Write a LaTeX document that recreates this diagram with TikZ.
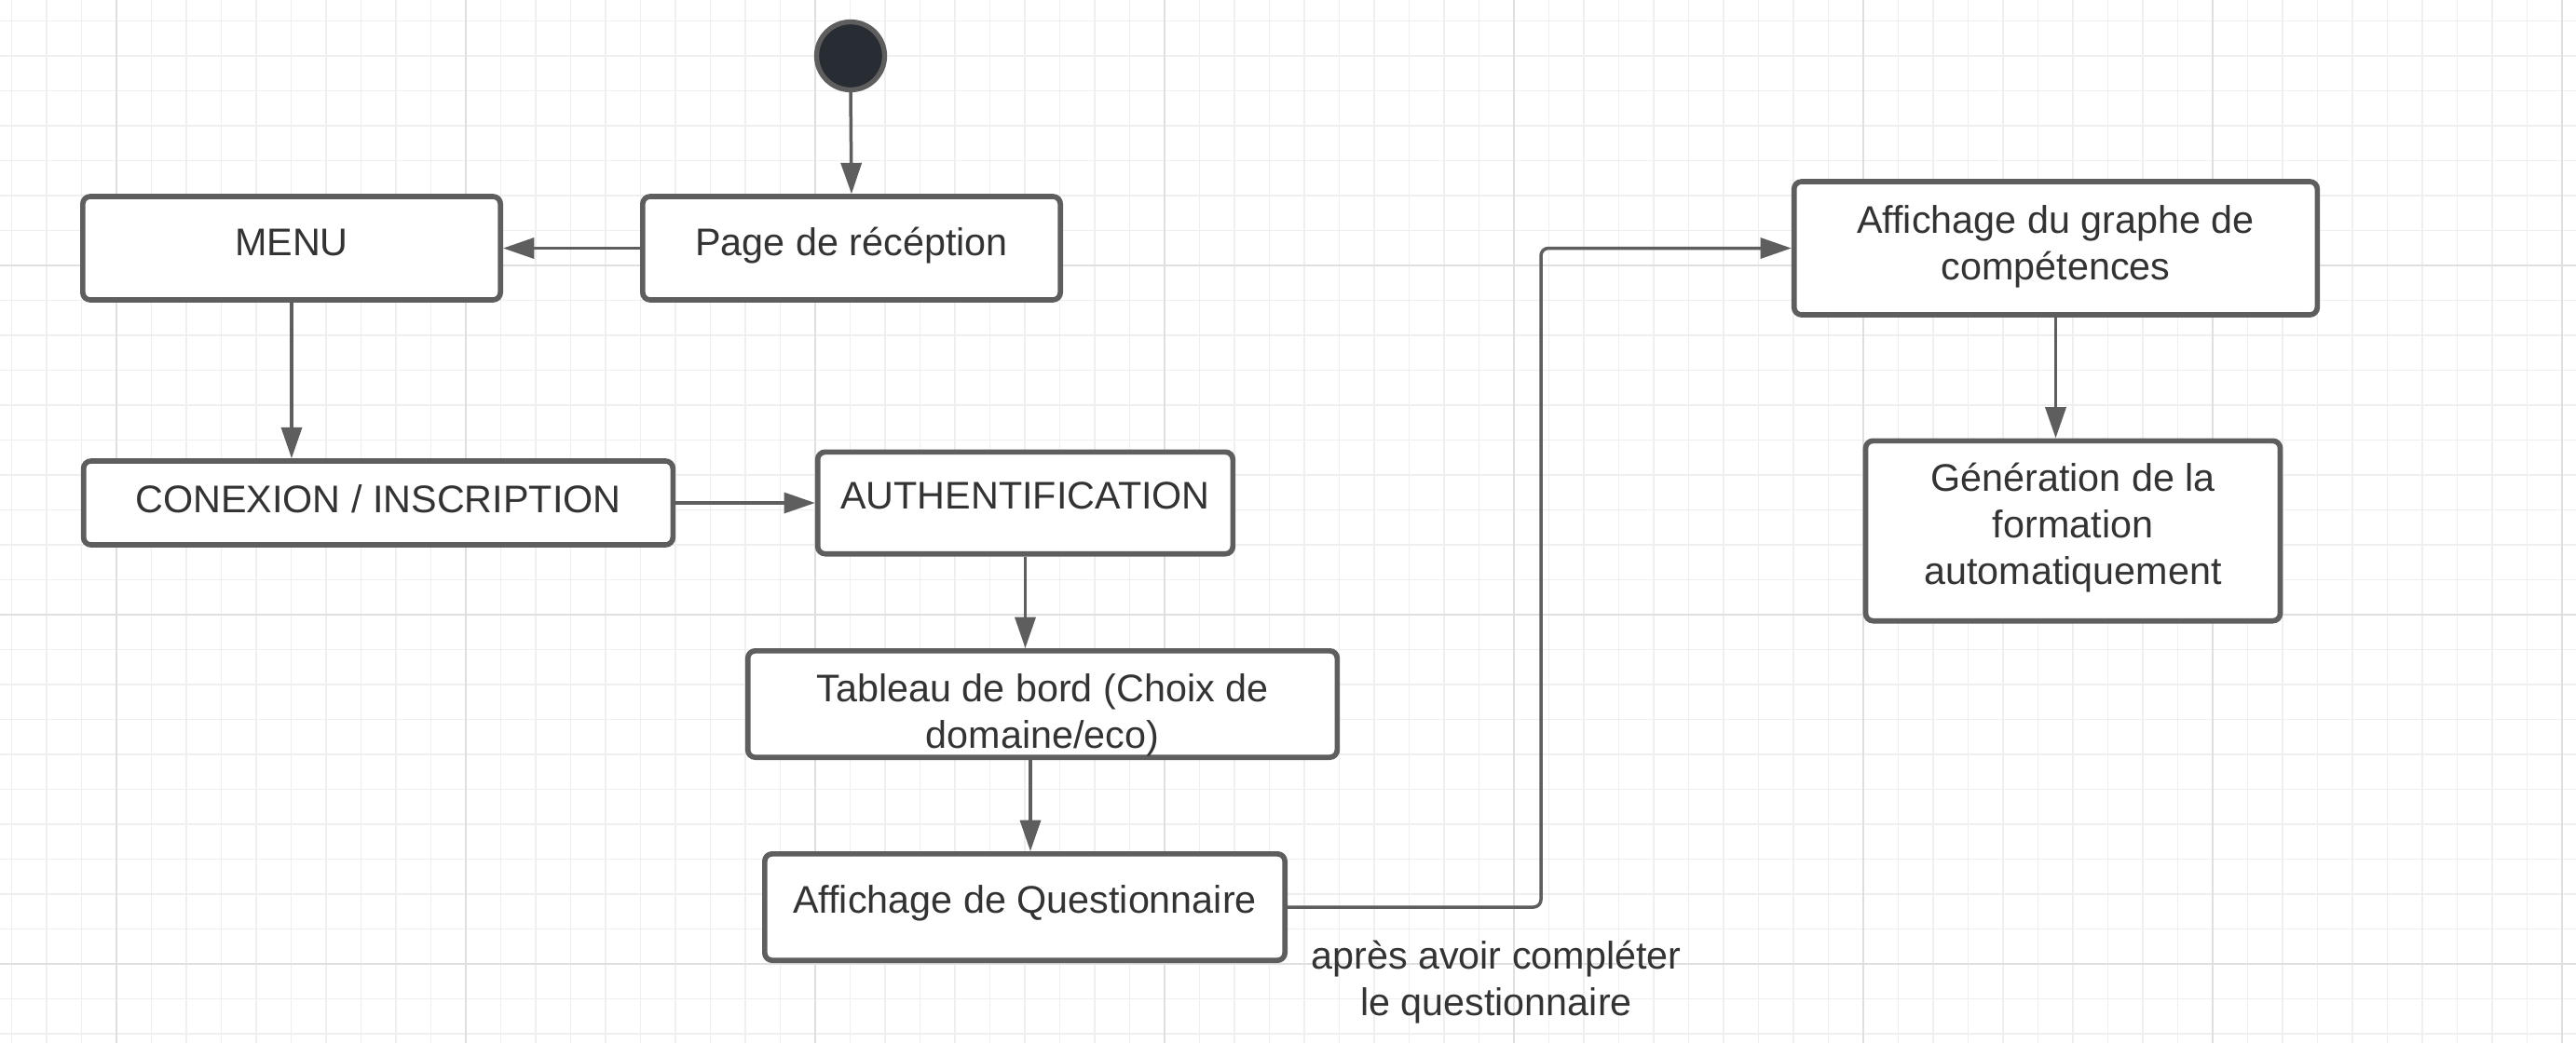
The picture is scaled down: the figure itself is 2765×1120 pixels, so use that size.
\documentclass[tikz,border=0pt]{standalone}
\usepackage{fontspec}
\setmainfont{Liberation Sans}
\usetikzlibrary{arrows.meta,calc}
\definecolor{gridminor}{HTML}{EFEFEF}
\definecolor{gridmajor}{HTML}{DFDFDF}
\definecolor{edgegray}{HTML}{5E5E5E}
\definecolor{txtgray}{HTML}{333333}
\definecolor{startfill}{HTML}{282C33}
\newcommand\bxt[2]{\raisebox{#1}[\height][\depth]{\begin{tabular}{@{}c@{}}#2\end{tabular}}}
\begin{document}
\begin{tikzpicture}[x=0.3pt,y=-0.3pt,
  statebox/.style={draw=edgegray,line width=1.7pt,rounded corners=2.4pt,fill=white,
    text=txtgray,inner sep=0pt,
    font=\fontsize{12.4}{15}\selectfont},
  conn/.style={draw=edgegray,line width=1.05pt,-{Triangle[length=10pt,width=6.6pt]}},
  lbl/.style={text=txtgray,align=center,inner sep=0pt,font=\fontsize{12.4}{15}\selectfont}]
\useasboundingbox (0,0) rectangle (2765,1120);
\fill[white] (0,0) rectangle (2765,1120);
% grid
\foreach \k in {0,...,73} {\draw[gridminor,line width=0.45pt] ({12.5+37.5*\k},0) -- ({12.5+37.5*\k},1120);}
\foreach \k in {0,...,29} {\draw[gridminor,line width=0.45pt] (0,{22.5+37.5*\k}) -- (2765,{22.5+37.5*\k});}
\foreach \k in {0,...,7} {\draw[gridmajor,line width=0.7pt] ({125+375*\k},0) -- ({125+375*\k},1120);}
\foreach \k in {0,...,2} {\draw[gridmajor,line width=0.7pt] (0,{285+375*\k}) -- (2765,{285+375*\k});}
% nodes
\node[circle,draw=edgegray,fill=startfill,line width=1.6pt,minimum size=21.9pt,inner sep=0pt] (start) at (913,60) {};
\node[statebox,minimum width=134.5pt,minimum height=33.3pt] (page) at (914,266.5) {\bxt{0.6pt}{Page de récéption}};
\node[statebox,minimum width=134.5pt,minimum height=33.3pt] (menu) at (313,266.5) {\bxt{0.5pt}{MENU}};
\node[statebox,minimum width=189.8pt,minimum height=27pt] (conex) at (406,540) {\bxt{0pt}{CONEXION / INSCRIPTION}};
\node[statebox,minimum width=133.7pt,minimum height=32.8pt] (auth) at (1100.5,540) {\bxt{1pt}{AUTHENTIFICATION}};
\node[statebox,minimum width=189.8pt,minimum height=34.3pt] (tab) at (1119,756) {\bxt{-3.6pt}{Tableau de bord (Choix de\\domaine/eco)}};
\node[statebox,minimum width=167.5pt,minimum height=34.3pt] (quest) at (1100,974) {\bxt{1.1pt}{Affichage de Questionnaire}};
\node[statebox,minimum width=168.5pt,minimum height=42.9pt] (aff) at (2206.5,266.5) {\bxt{0.3pt}{Affichage du graphe de\\compétences}};
\node[statebox,minimum width=133.5pt,minimum height=58pt] (gen) at (2225,570) {\bxt{0.8pt}{Génération de la\\formation\\automatiquement}};
\node[lbl] (note) at (1606,1055) {après avoir compléter\\le questionnaire};
% connectors
\draw[conn] (start.south) -- (page.north);
\draw[conn] (page.west) -- (menu.east);
\draw[conn] (menu.south) -- (menu.south |- conex.north);
\draw[conn] (conex.east) -- (conex.east -| auth.west);
\draw[conn] (auth.south) -- (auth.south |- tab.north);
\coordinate (tq) at ($(tab.south)+(-13,0)$);
\draw[conn] (tq) -- (tq |- quest.north);
\coordinate (bend) at (1654,974);
\draw[conn,rounded corners=2.4pt] (quest.east) -- (bend) -- (bend |- aff.west) -- (aff.west);
\draw[conn] (aff.south) -- (aff.south |- gen.north);
\end{tikzpicture}
\end{document}
